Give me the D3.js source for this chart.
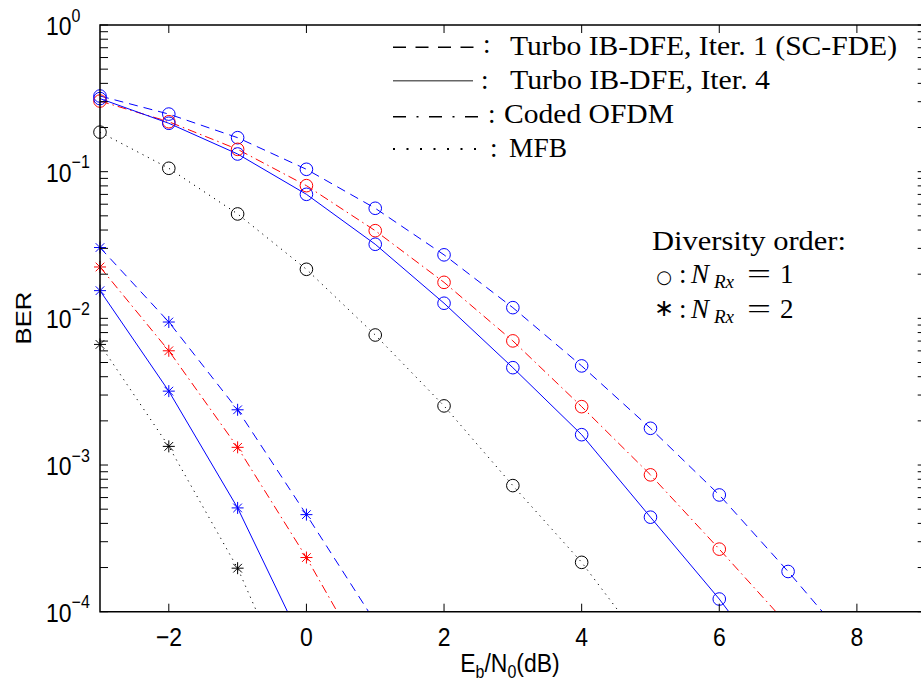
<!DOCTYPE html>
<html lang="en">
<head>
<meta charset="utf-8">
<title>BER vs Eb/N0</title>
<script src="https://d3js.org/d3.v7.min.js"></script>
<style>
  body { margin: 0; background: #fff; }
  svg { display: block; }
  .sans { font-family: "Liberation Sans", Arial, sans-serif; fill: #000; }
  .serif { font-family: "Liberation Serif", "Times New Roman", serif; fill: #000; }
</style>
</head>
<body>
<script>
// x values (Eb/N0 in dB), shared by all series
var ebn0 = [-3, -2, -1, 0, 1, 2, 3, 4, 5, 6, 7, 8];

// N_Rx = 1 (circles)
var iter1Rx1 = [0.328, 0.247, 0.1705, 0.1038, 0.0563, 0.0271, 0.01183, 0.00474, 0.00178, 6.25e-4, 1.88e-4, 5.3e-5];
var ofdmRx1  = [0.303, 0.219, 0.142, 0.0803, 0.0396, 0.0176, 0.00702, 0.0025, 8.57e-4, 2.67e-4, 8.1e-5];
var iter4Rx1 = [0.315, 0.2138, 0.132, 0.0701, 0.032, 0.01268, 0.00461, 0.00161, 4.41e-4, 1.22e-4, 2.9e-5];
var mfbRx1   = [0.186, 0.1055, 0.0515, 0.0216, 0.0077, 0.00253, 7.24e-4, 2.17e-4, 5.2e-5];

// N_Rx = 2 (asterisks)
var iter1Rx2 = [0.0304, 0.00944, 0.00238, 4.59e-4, 8.5e-5];
var ofdmRx2  = [0.0224, 0.00601, 0.00132, 2.34e-4, 3.5e-5];
var iter4Rx2 = [0.01545, 0.00319, 5.1e-4, 5.4e-5];
var mfbRx2   = [0.00664, 0.00134, 1.98e-4, 1.7e-5];

var xTicks = [-2, 0, 2, 4, 6, 8];
var yDecades = [0, -1, -2, -3, -4];

var legendLabels = ["Turbo IB-DFE, Iter. 1 (SC-FDE)", "Turbo IB-DFE, Iter. 4", "Coded OFDM", "MFB"];

var W = 921, H = 688;
var pL = 100, pT = 25, pR = 925.7, pB = 611.7;

var x = d3.scaleLinear().domain([-3, 9]).range([pL, pR]);
var y = d3.scaleLog().domain([1e-4, 1]).range([pB, pT]);

var svg = d3.select("body").append("svg")
    .attr("width", W).attr("height", H);

svg.append("defs").append("clipPath").attr("id", "plot")
    .append("rect").attr("x", pL).attr("y", pT)
    .attr("width", pR - pL).attr("height", pB - pT);

var styles = {
    dashed:  "9,6",
    solid:   null,
    dashdot: "9,4,1.5,4",
    dotted:  "1.2,4.8"
};

var series = [
    {v: iter1Rx1, color: "#0000ff", dash: styles.dashed,  mark: "o"},
    {v: ofdmRx1,  color: "#ff0000", dash: styles.dashdot, mark: "o"},
    {v: iter4Rx1, color: "#0000ff", dash: styles.solid,   mark: "o"},
    {v: mfbRx1,   color: "#000000", dash: styles.dotted,  mark: "o"},
    {v: iter1Rx2, color: "#0000ff", dash: styles.dashed,  mark: "*"},
    {v: ofdmRx2,  color: "#ff0000", dash: styles.dashdot, mark: "*"},
    {v: iter4Rx2, color: "#0000ff", dash: styles.solid,   mark: "*"},
    {v: mfbRx2,   color: "#000000", dash: styles.dotted,  mark: "*"}
];

var line = d3.line()
    .x(function(d) { return x(d[0]); })
    .y(function(d) { return y(d[1]); });

var plot = svg.append("g").attr("clip-path", "url(#plot)");
var marks = svg.append("g");

series.forEach(function(s) {
    var pts = s.v.map(function(v, i) { return [ebn0[i], v]; });
    plot.append("path")
        .attr("d", line(pts))
        .attr("fill", "none")
        .attr("stroke", s.color)
        .attr("stroke-width", 1)
        .attr("stroke-dasharray", s.dash);

    // markers are not clipped at the axes, but points outside the y range are dropped
    var inside = pts.filter(function(d) { return d[1] >= 1e-4; });
    var m = marks.selectAll(null).data(inside).enter().append("g")
        .attr("transform", function(d) { return "translate(" + x(d[0]) + "," + y(d[1]) + ")"; })
        .attr("stroke", s.color).attr("stroke-width", 1).attr("fill", "none");
    if (s.mark === "o") {
        m.append("circle").attr("r", 6.3);
    } else {
        var r = 6, q = r * 0.72;
        m.append("path").attr("d",
            "M" + (-r) + ",0H" + r + "M0," + (-r) + "V" + r +
            "M" + (-q) + "," + (-q) + "L" + q + "," + q +
            "M" + (-q) + "," + q + "L" + q + "," + (-q));
    }
});

// axes box and ticks
var axes = svg.append("g").attr("stroke", "#000").attr("fill", "none");
axes.append("path")
    .attr("d", "M" + pR + "," + pT + "H" + pL + "V" + pB + "H" + pR)
    .attr("stroke-width", 1.5);

var tl = 8;
xTicks.forEach(function(t) {
    axes.append("line").attr("x1", x(t)).attr("x2", x(t)).attr("y1", pB).attr("y2", pB - tl);
    axes.append("line").attr("x1", x(t)).attr("x2", x(t)).attr("y1", pT).attr("y2", pT + tl);
});
y.ticks().forEach(function(t) {
    axes.append("line").attr("x1", pL).attr("x2", pL + tl).attr("y1", y(t)).attr("y2", y(t));
    axes.append("line").attr("x1", pR).attr("x2", pR - tl).attr("y1", y(t)).attr("y2", y(t));
});

// text with the taller Helvetica look of the original
function stretched(px, py) {
    return svg.append("text").attr("class", "sans")
        .attr("transform", "translate(" + px + "," + py + ") scale(1,1.12)");
}

xTicks.forEach(function(t) {
    stretched(x(t), 646).attr("text-anchor", "middle").attr("font-size", 23)
        .text(t < 0 ? "\u2212" + Math.abs(t) : String(t));
});

yDecades.forEach(function(e) {
    var tx = stretched(46, y(Math.pow(10, e)) + 10).attr("font-size", 23);
    tx.append("tspan").text("10");
    tx.append("tspan").attr("font-size", 16).attr("dy", -12)
        .text(e < 0 ? "\u2212" + Math.abs(e) : String(e));
});

var xl = stretched(510, 672).attr("text-anchor", "middle").attr("font-size", 23);
xl.append("tspan").text("E");
xl.append("tspan").attr("font-size", 16).attr("dy", 5).text("b");
xl.append("tspan").attr("dy", -5).text("/N");
xl.append("tspan").attr("font-size", 16).attr("dy", 5).text("0");
xl.append("tspan").attr("dy", -5).text("(dB)");

svg.append("text").attr("class", "sans")
    .attr("transform", "translate(31,318) rotate(-90) scale(1.12,1)")
    .attr("text-anchor", "middle").attr("font-size", 23).text("BER");

// legend (line styles)
var legY = [47.3, 80.7, 116.7, 149];
var legBase = [55, 89, 123, 157];
var legX = [510, 510, 504, 509];
var legW = [387, 260, 170, 58];
var colonX = [483, 481, 488, 490];
var legEnd = [474, 473, 479, 478];
var legDash = ["13,9.5", null, "13,10.5,2,10.5", "2,11.5"];
var lg = svg.append("g");
legendLabels.forEach(function(lab, i) {
    lg.append("line")
        .attr("x1", 393).attr("x2", legEnd[i])
        .attr("y1", legY[i]).attr("y2", legY[i])
        .attr("stroke", i === 1 ? "#666" : "#000")
        .attr("stroke-width", i === 3 ? 2 : 1.5)
        .attr("stroke-dasharray", legDash[i]);
    lg.append("text").attr("class", "serif").attr("font-size", 27)
        .attr("x", colonX[i]).attr("y", legBase[i] - (i === 0 ? 2 : 0)).text(":");
    lg.append("text").attr("class", "serif").attr("font-size", 27)
        .attr("x", legX[i]).attr("y", legBase[i])
        .attr("textLength", legW[i]).attr("lengthAdjust", "spacingAndGlyphs")
        .text(lab);
});

// diversity order note
svg.append("text").attr("class", "serif").attr("font-size", 27)
    .attr("x", 652).attr("y", 250)
    .attr("textLength", 194).attr("lengthAdjust", "spacingAndGlyphs")
    .text("Diversity order:");

[["\u25CB", "1", 283, 18, "DejaVu Sans"], ["\u2217", "2", 318, 24, "Liberation Serif"]].forEach(function(r) {
    var b = r[2];
    svg.append("text").attr("font-family", r[4]).attr("font-size", r[3])
        .attr("x", 664).attr("y", r[1] === "1" ? b : b - 2).attr("text-anchor", "middle").text(r[0]);
    svg.append("text").attr("class", "serif").attr("font-size", 27)
        .attr("x", 679).attr("y", b).text(":");
    svg.append("text").attr("class", "serif").attr("font-size", 27).attr("font-style", "italic")
        .attr("x", 691).attr("y", b).text("N");
    svg.append("text").attr("class", "serif").attr("font-size", 19).attr("font-style", "italic")
        .attr("x", 714).attr("y", b + 5).text("Rx");
    svg.append("text").attr("class", "serif").attr("font-size", 27)
        .attr("x", 747).attr("y", b)
        .attr("textLength", 24).attr("lengthAdjust", "spacingAndGlyphs").text("=");
    svg.append("text").attr("class", "serif").attr("font-size", 27)
        .attr("x", 780).attr("y", b).text(r[1]);
});
</script>
</body>
</html>
